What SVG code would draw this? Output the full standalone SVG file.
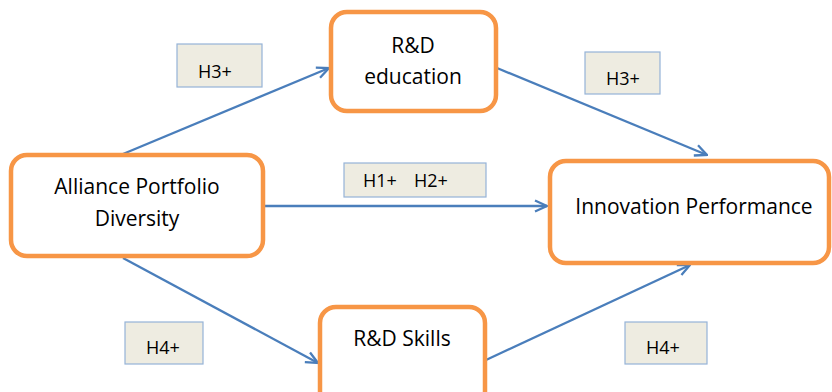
<svg xmlns="http://www.w3.org/2000/svg" width="832" height="392" viewBox="0 0 832 392">
<defs>
<marker id="arr" viewBox="0 0 14 14" refX="13" refY="7" markerWidth="14" markerHeight="14" markerUnits="userSpaceOnUse" orient="auto">
<path d="M1,1.5 L13,7 L1,12.5" fill="none" stroke="#4a7ebb" stroke-width="2.3"/>
</marker>
<style>
.node{fill:#fff;stroke:#f79646;stroke-width:4.5}
.nt{font-family:"Open Sans","Liberation Sans",sans-serif;font-size:21px;fill:#000;text-anchor:middle}
.lb{fill:#eeece1;stroke:#95b3d7;stroke-width:1.2}
.lt{font-family:"Open Sans","Liberation Sans",sans-serif;font-size:18px;fill:#000}
.edge{fill:none;stroke:#4a7ebb;stroke-width:2.3;marker-end:url(#arr)}
</style>
</defs>
<rect width="832" height="392" fill="#fff"/>
<g id="connectors">
<line class="edge" x1="123" y1="154" x2="329" y2="68"/>
<line class="edge" x1="497" y1="68" x2="707" y2="155"/>
<line class="edge" x1="264" y1="206" x2="547" y2="206"/>
<line class="edge" x1="123" y1="258" x2="318" y2="363"/>
<line class="edge" x1="486" y1="360" x2="690" y2="265"/>
</g>
<g id="alliance">
<rect class="node" x="11" y="155" width="252" height="101" rx="16"/>
<text class="nt" x="137" y="194">Alliance Portfolio</text>
<text class="nt" x="137" y="226">Diversity</text>
</g>
<g id="rd-education">
<rect class="node" x="331" y="12" width="165" height="99" rx="16"/>
<text class="nt" x="413" y="53">R&amp;D</text>
<text class="nt" x="413" y="84">education</text>
</g>
<g id="innovation">
<rect class="node" x="550" y="161" width="279" height="102" rx="16"/>
<text class="nt" x="694" y="214">Innovation Performance</text>
</g>
<g id="rd-skills">
<rect class="node" x="320" y="307" width="165" height="100" rx="16"/>
<text class="nt" x="402" y="346">R&amp;D Skills</text>
</g>
<g id="label-h3-left">
<rect class="lb" x="177" y="44" width="85" height="43"/>
<text class="lt" x="198" y="78">H3+</text>
</g>
<g id="label-h3-right">
<rect class="lb" x="585" y="52" width="75" height="42"/>
<text class="lt" x="606" y="85">H3+</text>
</g>
<g id="label-h1h2">
<rect class="lb" x="344" y="163" width="142" height="34"/>
<text class="lt" x="363" y="187">H1+</text>
<text class="lt" x="414" y="187">H2+</text>
</g>
<g id="label-h4-left">
<rect class="lb" x="125" y="322" width="78" height="42"/>
<text class="lt" x="146" y="354">H4+</text>
</g>
<g id="label-h4-right">
<rect class="lb" x="625" y="322" width="82" height="42"/>
<text class="lt" x="646" y="354">H4+</text>
</g>
</svg>
